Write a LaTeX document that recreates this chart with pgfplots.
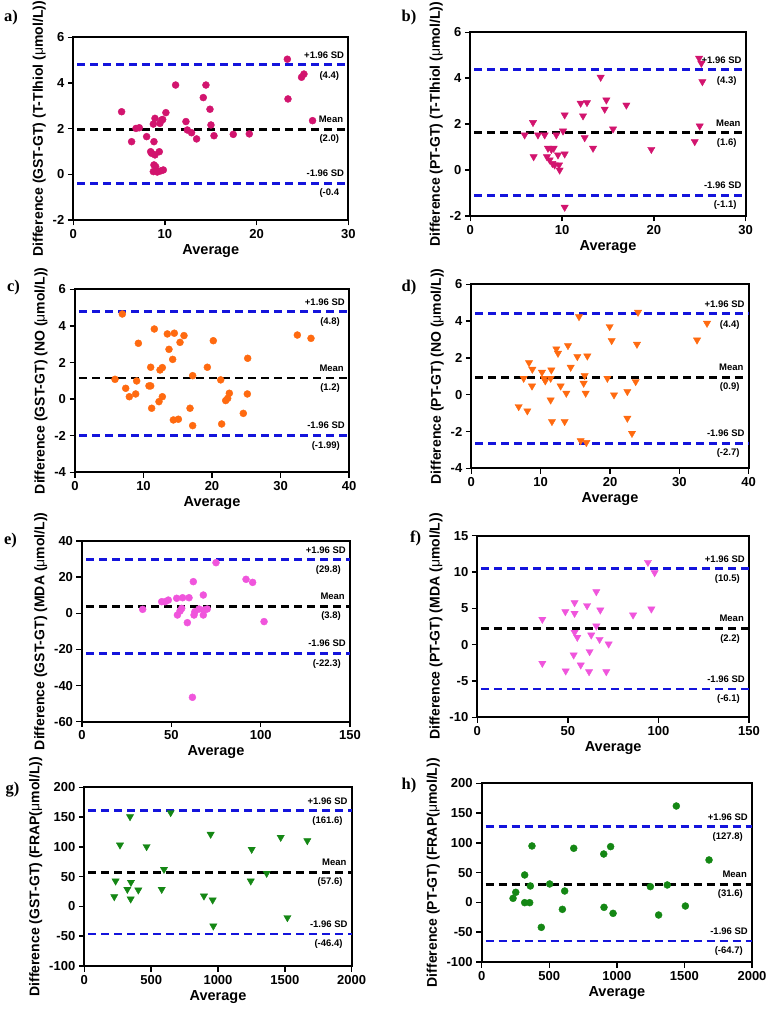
\documentclass[border=0pt]{standalone}
\usepackage{pgfplots}
\pgfplotsset{compat=1.18}
\usepackage{fontspec}
\setmainfont{Liberation Sans}
\newfontfamily\serifb{Liberation Serif}
\definecolor{crim}{RGB}{210,20,110}
\definecolor{org}{RGB}{255,106,16}
\definecolor{pnk}{RGB}{240,85,220}
\definecolor{grn}{RGB}{20,135,20}
\definecolor{sdblue}{RGB}{20,20,220}
\pgfplotsset{
  ba/.style={scale only axis, anchor=south west, axis line style={line width=2pt},
    tick style={line width=1.5pt,black}, tick align=outside, major tick length=5.5pt,
    xtick pos=bottom, ytick pos=left,
    ticklabel style={font=\bfseries\fontsize{13}{13}\selectfont},
    /pgf/number format/assume math mode=true,
    /pgf/number format/1000 sep={},
    xlabel={Average}, xlabel style={font=\bfseries\fontsize{14.5}{15}\selectfont, yshift=1pt},
    ylabel style={font=\bfseries\fontsize{14}{14}\selectfont},
    clip=false, scaled ticks=false,
  },
  sdl/.style={sdblue, line width=2.8pt, dash pattern=on 8pt off 5pt, dash phase=9pt},
  mnl/.style={black, line width=2.8pt, dash pattern=on 8pt off 5pt, dash phase=9pt},
  circ/.style={only marks, mark=*, mark size=3.5pt, mark options={draw=#1, fill=#1}},
  tri/.style={only marks, mark=triangle*, mark size=4.2pt, mark options={draw=#1, fill=#1, rotate=180}},
}
\tikzset{ann/.style={font=\bfseries\fontsize{9.5}{10}\selectfont, inner sep=0pt}}
\newcommand{\umu}{{\mdseries μ}}
% #1 xmin #2 xmax #3 up #4 mean #5 low #6 up text #7 mean text #8 low text
\newcommand{\balines}[8]{%
  \addplot[sdl] coordinates {(#1,#3) (#2,#3)};
  \addplot[mnl] coordinates {(#1,#4) (#2,#4)};
  \addplot[sdl] coordinates {(#1,#5) (#2,#5)};
  \node[ann,anchor=east] at ([xshift=-4pt,yshift=9pt]axis cs:#2,#3) {+1.96 SD};
  \node[ann,anchor=east] at ([xshift=-9pt,yshift=-11pt]axis cs:#2,#3) {#6};
  \node[ann,anchor=east] at ([xshift=-5pt,yshift=10pt]axis cs:#2,#4) {Mean};
  \node[ann,anchor=east] at ([xshift=-9pt,yshift=-10pt]axis cs:#2,#4) {#7};
  \node[ann,anchor=east] at ([xshift=-4pt,yshift=10pt]axis cs:#2,#5) {-1.96 SD};
  \node[ann,anchor=east] at ([xshift=-9pt,yshift=-10pt]axis cs:#2,#5) {#8};
}
\begin{document}
\begin{tikzpicture}
\path[use as bounding box] (0pt,0pt) rectangle (766pt,1011pt);
% panel letters
\foreach \l/\px/\py in {a/11/993, b/409/993.5, c/13.5/723.5, d/409/723.5, e/10.5/470, f/415.5/472.5, g/12.5/221, h/409/225.5}
  \node[font=\serifb\bfseries\fontsize{16.5}{17}\selectfont] at (\px pt,\py pt) {\l)};

% a
\begin{axis}[ba, at={(73.3pt,791pt)}, width=275pt, height=182.7pt,
  xmin=0, xmax=30, ymin=-2, ymax=6, xtick={0,10,20,30}, ytick={-2,0,2,4,6},
  ylabel={Difference (GST-GT) (T-Tlhiol (\umu mol/L))}]
\balines{0}{30}{4.8}{1.97}{-0.4}{(4.4)}{(2.0)}{(-0.4}
\addplot[circ=crim] coordinates {
(5.27,2.74) (6.36,1.43) (6.84,2.01) (7.2,2.04) (8.0,1.65) (8.44,0.99) (8.55,0.92)
(8.73,2.2) (8.8,1.43) (8.91,2.45) (8.91,0.85) (8.73,0.12) (8.8,0.41) (8.98,0.34)
(9.16,0.1) (9.38,0.99) (9.45,2.23) (9.64,2.38) (9.75,2.4) (9.53,0.15) (9.82,0.19)
(10.1,2.7) (11.16,3.91) (12.29,2.31) (12.44,1.94) (12.9,1.82) (13.45,1.55) (14.18,3.36)
(14.47,3.91) (14.91,2.85) (15.02,2.16) (15.35,1.69) (17.45,1.75) (19.2,1.77)
(23.35,5.04) (23.42,3.3) (24.9,4.25) (25.16,4.39) (26.1,2.35)};
\end{axis}

% b
\begin{axis}[ba, at={(470.3pt,795pt)}, width=275.4pt, height=183.7pt,
  xmin=0, xmax=30, ymin=-2, ymax=6, xtick={0,10,20,30}, ytick={-2,0,2,4,6},
  ylabel={Difference (PT-GT) (T-Tlhiol (\umu mol/L))}]
\balines{0}{30}{4.37}{1.62}{-1.1}{(4.3)}{(1.6)}{(-1.1)}
\addplot[tri=crim] coordinates {
(5.92,1.53) (6.83,2.07) (6.9,0.58) (7.37,1.53) (8.1,1.53) (8.46,0.95) (8.35,0.58)
(8.64,0.44) (8.83,0.90) (8.94,0.29) (9.08,0.95) (9.19,0.22) (9.37,1.53) (9.55,0.66)
(9.66,0.22) (9.73,0.0) (10.1,1.70) (10.28,0.7) (10.28,2.4) (10.28,-1.62) (12.02,2.91)
(12.28,2.36) (12.46,1.41) (12.71,2.94) (13.37,0.95) (14.2,4.04) (14.64,2.65) (14.82,3.05)
(15.55,1.79) (17.0,2.83) (19.72,0.90) (24.45,1.24) (24.99,1.92) (24.92,4.87)
(25.17,4.65) (25.28,3.85)};
\end{axis}

% c
\begin{axis}[ba, at={(75pt,538.7pt)}, width=274pt, height=183pt,
  xmin=0, xmax=40, ymin=-4, ymax=6, xtick={0,10,20,30,40}, ytick={-4,-2,0,2,4,6},
  ylabel={Difference (GST-GT) (NO (\umu mol/L))}]
\balines{0}{40}{4.8}{1.15}{-2.0}{(4.8)}{(1.2)}{(-1.99)}
\addplot[circ=org] coordinates {
(5.84,1.08) (6.91,4.65) (7.40,0.59) (7.93,0.13) (8.86,0.28) (9.0,0.99) (9.25,3.05)
(10.8,0.72) (11.05,0.72) (11.05,1.74) (11.19,-0.5) (11.58,3.83) (12.26,-0.14) (12.41,1.59)
(12.75,1.72) (12.75,0.13) (13.48,3.56) (13.72,2.72) (14.26,2.17) (14.36,-1.14) (14.5,3.6)
(15.09,-1.10) (15.33,3.10) (15.91,3.47) (16.79,-0.5) (17.18,1.28) (17.18,-1.45)
(19.32,1.74) (20.19,3.19) (21.27,1.05) (21.41,-1.36) (22.0,-0.08) (22.29,0.04)
(22.53,0.32) (24.57,-0.78) (25.16,0.28) (25.21,2.23) (32.46,3.50) (34.45,3.32)};
\end{axis}

% d
\begin{axis}[ba, at={(471.3pt,542.7pt)}, width=277.4pt, height=184pt,
  xmin=0, xmax=40, ymin=-4, ymax=6, xtick={0,10,20,30,40}, ytick={-4,-2,0,2,4,6},
  ylabel={Difference (PT-GT) (NO (\umu mol/L))}]
\balines{0}{40}{4.4}{0.95}{-2.65}{(4.4)}{(0.9)}{(-2.7)}
\addplot[tri=org] coordinates {
(6.83,-0.65) (7.55,0.89) (8.08,-0.88) (8.32,1.74) (8.8,1.38) (8.75,0.47) (10.19,1.22)
(10.48,0.89) (10.67,0.75) (11.54,1.34) (11.44,0.89) (11.44,-0.29) (11.63,-1.46)
(12.26,2.49) (12.5,2.25) (12.88,0.47) (13.46,-1.46) (13.7,0.08) (13.94,2.67) (14.33,1.49)
(15.29,2.07) (15.53,4.24) (15.77,-2.5) (16.2,0.62) (16.35,1.04) (16.49,0.08) (16.59,-2.6)
(16.73,2.10) (19.62,0.89) (19.95,3.70) (20.24,2.94) (20.58,-0.01) (22.5,0.17)
(22.5,-1.28) (23.17,-2.1) (23.7,0.71) (23.89,2.74) (24.04,4.48) (32.55,2.97) (33.99,3.88)};
\end{axis}

% e
\begin{axis}[ba, at={(82pt,289.3pt)}, width=268pt, height=180.7pt,
  xmin=0, xmax=150, ymin=-60, ymax=40, xtick={0,50,100,150}, ytick={-60,-40,-20,0,20,40},
  ylabel={Difference (GST-GT) (MDA (\umu mol/L))}]
\balines{0}{150}{29.8}{3.8}{-22.3}{(29.8)}{(3.8)}{(-22.3)}
\addplot[circ=pnk] coordinates {
(33.96,2.18) (44.6,6.4) (46.45,6.4) (48.3,7.3) (53.0,8.3) (53.4,-0.96) (54.85,1.25)
(55.8,2.7) (56.3,8.6) (58.96,-5.2) (59.9,8.6) (62.3,17.5) (62.7,-0.96) (63.2,0.9)
(61.8,-46.5) (65.5,2.36) (67.9,10.1) (67.9,-0.96) (68.3,1.8) (70.1,2.36) (75.0,28.0)
(91.8,18.8) (95.5,17.1) (101.9,-4.6)};
\end{axis}

% f
\begin{axis}[ba, at={(477.3pt,293.7pt)}, width=271.7pt, height=181.6pt,
  xmin=0, xmax=150, ymin=-10, ymax=15, xtick={0,50,100,150}, ytick={-10,-5,0,5,10,15},
  ylabel={Difference (PT-GT) (MDA (\umu mol/L))}]
\balines{0}{150}{10.5}{2.2}{-6.1}{(10.5)}{(2.2)}{(-6.1)}
\addplot[tri=pnk] coordinates {
(35.9,3.49) (35.9,-2.57) (48.8,-3.62) (48.6,4.54) (53.7,5.78) (53.7,4.31) (53.2,-1.42)
(53.7,1.70) (55.2,1.01) (57.1,-2.80) (60.6,5.37) (61.7,-3.72) (62.0,-0.96) (62.9,1.33)
(65.7,7.29) (65.7,2.57) (67.5,0.73) (67.9,4.77) (71.2,-3.72) (72.5,0.09) (86.0,4.08)
(94.2,11.33) (96.1,4.91) (97.9,9.91)};
\end{axis}

% g
\begin{axis}[ba, at={(84.3pt,45pt)}, width=267.4pt, height=178.7pt,
  xmin=0, xmax=2000, ymin=-100, ymax=200, xtick={0,500,1000,1500,2000}, ytick={-100,-50,0,50,100,150,200},
  ylabel={Difference (GST-GT) (FRAP(\umu mol/L))}]
\balines{0}{2000}{161.6}{57.6}{-46.4}{(161.6)}{(57.6)}{(-46.4)}
\addplot[tri=grn] coordinates {
(224,16.4) (234,42.7) (267,103.2) (322,28.7) (342,150.7) (347,12.5) (349,40.5)
(404,27.6) (466,100.4) (579,28.7) (596,62.3) (646,157.5) (895,17.5) (945,121.1)
(960,10.8) (965,-32.8) (1252,95.9) (1245,42.7) (1364,55.6) (1469,116.0) (1519,-18.8)
(1668,110.4)};
\end{axis}

% h
\begin{axis}[ba, at={(481.7pt,49pt)}, width=270.3pt, height=178.7pt,
  xmin=0, xmax=2000, ymin=-100, ymax=200, xtick={0,500,1000,1500,2000}, ytick={-100,-50,0,50,100,150,200},
  ylabel={Difference (PT-GT) (FRAP(\umu mol/L))}]
\balines{0}{2000}{127.8}{30.6}{-64.7}{(127.8)}{(31.6)}{(-64.7)}
\addplot[circ=grn] coordinates {
(232,6.9) (252,17.0) (318,46.1) (318,-0.4) (355,-0.4) (360,27.6) (372,94.8)
(441,-41.8) (503,31.0) (597,-11.6) (614,19.2) (681,90.9) (903,81.3) (905,-8.2)
(954,93.7) (972,-18.3) (1248,26.5) (1309,-21.1) (1373,29.3) (1440,161.9) (1507,-6.0)
(1682,71.3)};
\end{axis}
\end{tikzpicture}
\end{document}
